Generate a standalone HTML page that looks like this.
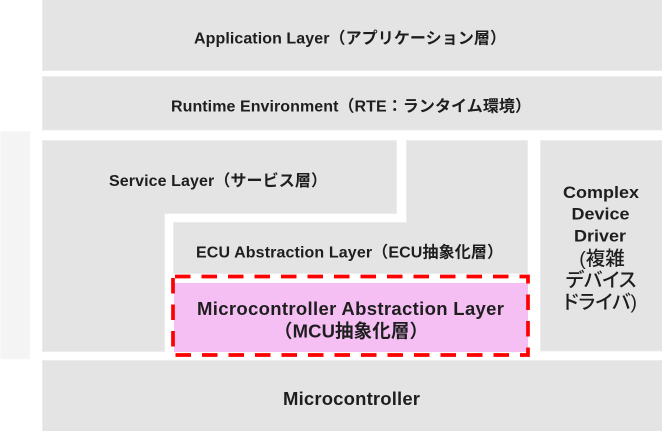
<!DOCTYPE html>
<html>
<head>
<meta charset="utf-8">
<style>
  html, body { margin: 0; padding: 0; background: #ffffff; }
  body { width: 662px; height: 431px; overflow: hidden; }
  svg { display: block; }
  text { font-family: "Liberation Sans", "Noto Sans CJK JP", sans-serif; font-weight: 700; fill: #1e1e1e; }
  .cjk { font-feature-settings: "palt"; font-weight: 500; }
</style>
</head>
<body>
<svg width="662" height="431" viewBox="0 0 662 431" xmlns="http://www.w3.org/2000/svg">
  <!-- left faint strip -->
  <rect x="0.5" y="131.5" width="29.5" height="227.5" fill="#f4f4f4" stroke="#f8f8f8" stroke-width="1"/>

  <!-- Application layer -->
  <rect x="42.5" y="-1" width="621" height="71.5" fill="#e4e4e4" stroke="#ececec" stroke-width="1"/>
  <!-- RTE -->
  <rect x="42.5" y="76.5" width="621" height="53.5" fill="#e4e4e4" stroke="#ececec" stroke-width="1"/>

  <!-- Service layer L-shape -->
  <polygon points="42.5,140.5 396.5,140.5 396.5,213.5 164.5,213.5 164.5,351.5 42.5,351.5" fill="#e4e4e4" stroke="#ececec" stroke-width="1"/>

  <!-- ECU abstraction L-shape -->
  <polygon points="406.5,140.5 527.5,140.5 527.5,273.5 173.5,273.5 173.5,222.5 406.5,222.5" fill="#e4e4e4" stroke="#ececec" stroke-width="1"/>

  <!-- Complex Device Driver -->
  <rect x="540.5" y="140.5" width="122" height="210.5" fill="#e4e4e4" stroke="#ececec" stroke-width="1"/>

  <!-- Microcontroller -->
  <rect x="42.5" y="360.5" width="621" height="72" fill="#e4e4e4" stroke="#ececec" stroke-width="1"/>

  <!-- MCAL pink -->
  <rect x="174" y="283" width="354" height="69" fill="#f5bff4"/>
  <!-- red dashed frame -->
  <rect x="173" y="276.5" width="355" height="78.5" fill="none" stroke="#ff0000" stroke-width="3.7" stroke-dasharray="15.5 11" stroke-dashoffset="24.5"/>

  <!-- Labels -->
  <text x="194" y="43.3" font-size="16" textLength="312" lengthAdjust="spacing">Application Layer（アプリケーション層）</text>
  <text x="171" y="111.5" font-size="16" textLength="360" lengthAdjust="spacing">Runtime Environment（RTE：ランタイム環境）</text>
  <text x="109" y="186" font-size="16" textLength="218" lengthAdjust="spacing">Service Layer（サービス層）</text>
  <text x="196" y="257.5" font-size="16" textLength="307" lengthAdjust="spacing">ECU Abstraction Layer（ECU抽象化層）</text>

  <text x="197" y="315" font-size="18.5" textLength="307" lengthAdjust="spacing">Microcontroller Abstraction Layer</text>
  <text x="274" y="337.5" font-size="18.5" textLength="154" lengthAdjust="spacing">（MCU抽象化層）</text>

  <text x="283" y="405" font-size="18.5" textLength="137" lengthAdjust="spacing">Microcontroller</text>

  <!-- Complex Device Driver labels -->
  <text transform="translate(601,198) scale(1.09,1)" font-size="16.5" text-anchor="middle">Complex</text>
  <text transform="translate(600.5,219.5) scale(1.09,1)" font-size="16.5" text-anchor="middle">Device</text>
  <text transform="translate(600,241.7) scale(1.09,1)" font-size="16.5" text-anchor="middle">Driver</text>
  <text class="cjk" x="602" y="265" font-size="19.5" text-anchor="middle">(複雑</text>
  <text class="cjk" x="601" y="286.5" font-size="19.5" text-anchor="middle">デバイス</text>
  <text class="cjk" x="600" y="308.5" font-size="19.5" text-anchor="middle">ドライバ)</text>
</svg>
</body>
</html>
